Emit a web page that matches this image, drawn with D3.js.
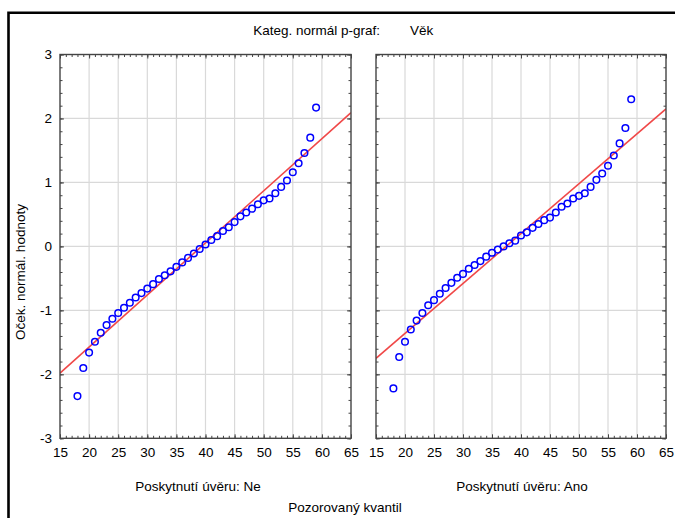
<!DOCTYPE html>
<html>
<head>
<meta charset="utf-8">
<script src="https://cdn.jsdelivr.net/npm/d3@7/dist/d3.min.js"></script>
<style>
  body { margin: 0; background: #fff; }
  text { font-family: "Liberation Sans", Arial, sans-serif; font-size: 13.5px; fill: #000; }
</style>
</head>
<body>
<svg id="chart" width="675" height="518"></svg>
<script>
// observed ages (x) and expected normal values (y) per group
var agesNe = [18,19,20,21,22,23,24,25,26,27,28,29,30,31,32,33,34,35,36,37,38,39,40,
              41,42,43,44,45,46,47,48,49,50,51,52,53,54,55,56,57,58,59];
var zNe = [-2.34,-1.90,-1.66,-1.49,-1.35,-1.23,-1.13,-1.04,-0.96,-0.88,-0.80,-0.73,
           -0.66,-0.59,-0.51,-0.45,-0.39,-0.32,-0.25,-0.18,-0.11,-0.04,0.03,
           0.10,0.16,0.24,0.30,0.38,0.47,0.53,0.59,0.66,0.72,0.75,0.83,0.93,1.03,
           1.16,1.30,1.46,1.70,2.17];
var agesAno = [18,19,20,21,22,23,24,25,26,27,28,29,30,31,32,33,34,35,36,37,38,39,
               40,41,42,43,44,45,46,47,48,49,50,51,52,53,54,55,56,57,58,59];
var zAno = [-2.22,-1.73,-1.49,-1.30,-1.16,-1.04,-0.92,-0.84,-0.74,-0.65,-0.57,-0.49,
            -0.43,-0.35,-0.29,-0.23,-0.16,-0.10,-0.05,0.00,0.05,0.09,
            0.17,0.22,0.29,0.35,0.41,0.45,0.53,0.62,0.67,0.75,0.79,0.83,0.93,1.04,
            1.14,1.26,1.42,1.61,1.85,2.30];
// fitted normal line end points [age, z]
var fitNe = [[15,-1.98],[65,2.09]];
var fitAno = [[15,-1.75],[65,2.15]];

var xMajor = [15,20,25,30,35,40,45,50,55,60,65];
var xMinor = [15,16,17,18,19,20,21,22,23,24,25,26,27,28,29,30,31,32,33,34,35,36,37,38,39,40,
              41,42,43,44,45,46,47,48,49,50,51,52,53,54,55,56,57,58,59,60,61,62,63,64,65];
var yMajor = [-3,-2,-1,0,1,2,3];
var yMinor = [-3,-2.8,-2.6,-2.4,-2.2,-2,-1.8,-1.6,-1.4,-1.2,-1,-0.8,-0.6,-0.4,-0.2,0,
              0.2,0.4,0.6,0.8,1,1.2,1.4,1.6,1.8,2,2.2,2.4,2.6,2.8,3];

var title = 'Kateg. normál p-graf:';
var titleVar = 'Věk';
var yTitle = 'Oček. normál. hodnoty';
var xTitle = 'Pozorovaný kvantil';

var panels = [
  { ages: agesNe, z: zNe, fit: fitNe, label: 'Poskytnutí úvěru: Ne', x0: 60, x1: 351, labelX: 198, yLabels: true },
  { ages: agesAno, z: zAno, fit: fitAno, label: 'Poskytnutí úvěru: Ano', x0: 376, x1: 666, labelX: 522, yLabels: false }
];

var svg = d3.select('#chart');
var plotTop = 54.5, plotBottom = 438.3;
var y = d3.scaleLinear().domain([-3, 3]).range([plotBottom, plotTop]);
var plain = function (d) { return String(d); };

// outer frame (only top and left edges are in view)
svg.append('path')
  .attr('d', 'M8.5,520 V12.8 H680')
  .attr('fill', 'none')
  .attr('stroke', '#000')
  .attr('stroke-width', 2.6);

panels.forEach(function (p) {
  var x = d3.scaleLinear().domain([15, 65]).range([p.x0, p.x1]);
  var g = svg.append('g');
  var w = p.x1 - p.x0, h = plotBottom - plotTop;

  // grid
  g.append('g').selectAll('line')
    .data(xMajor.slice(1, -1)).enter().append('line')
    .attr('x1', function (d) { return x(d); }).attr('x2', function (d) { return x(d); })
    .attr('y1', plotTop).attr('y2', plotBottom)
    .attr('stroke', '#d9d9d9').attr('stroke-width', 1.2);
  g.append('g').selectAll('line')
    .data(yMajor.slice(1, -1)).enter().append('line')
    .attr('y1', function (d) { return y(d); }).attr('y2', function (d) { return y(d); })
    .attr('x1', p.x0).attr('x2', p.x1)
    .attr('stroke', '#d9d9d9').attr('stroke-width', 1.2);

  // inward ticks on all sides
  function ticks(axis, vals, size, tx, ty) {
    var a = g.append('g').attr('transform', 'translate(' + tx + ',' + ty + ')')
      .call(axis.tickValues(vals).tickSize(size).tickFormat(''));
    a.select('.domain').remove();
    a.selectAll('line').attr('stroke', '#444').attr('stroke-width', 1);
  }
  ticks(d3.axisBottom(x), xMinor, -2.5, 0, plotBottom);
  ticks(d3.axisBottom(x), xMajor, -4, 0, plotBottom);
  ticks(d3.axisTop(x), xMinor, -2.5, 0, plotTop);
  ticks(d3.axisTop(x), xMajor, -4, 0, plotTop);
  ticks(d3.axisLeft(y), yMinor, -2.5, p.x0, 0);
  ticks(d3.axisLeft(y), yMajor, -4, p.x0, 0);
  ticks(d3.axisRight(y), yMinor, -2.5, p.x1, 0);
  ticks(d3.axisRight(y), yMajor, -4, p.x1, 0);

  // fitted line
  var clip = 'clip' + p.x0;
  svg.append('clipPath').attr('id', clip).append('rect')
    .attr('x', p.x0).attr('y', plotTop).attr('width', w).attr('height', h);
  g.append('path')
    .datum(p.fit)
    .attr('clip-path', 'url(#' + clip + ')')
    .attr('d', d3.line().x(function (d) { return x(d[0]); }).y(function (d) { return y(d[1]); }))
    .attr('fill', 'none')
    .attr('stroke', '#f04848')
    .attr('stroke-width', 1.6);

  // points
  g.append('g').selectAll('circle')
    .data(p.ages).enter().append('circle')
    .attr('cx', function (d) { return x(d); })
    .attr('cy', function (d, i) { return y(p.z[i]); })
    .attr('r', 3.3)
    .attr('fill', 'none')
    .attr('stroke', '#0000ff')
    .attr('stroke-width', 1.5);

  // frame
  g.append('rect')
    .attr('x', p.x0).attr('y', plotTop).attr('width', w).attr('height', h)
    .attr('fill', 'none').attr('stroke', '#444').attr('stroke-width', 1.4);

  // tick labels
  var xl = g.append('g').attr('transform', 'translate(0,' + plotBottom + ')')
    .call(d3.axisBottom(x).tickValues(xMajor).tickFormat(plain).tickSize(0).tickPadding(9));
  xl.select('.domain').remove();

  if (p.yLabels) {
    var yl = g.append('g').attr('transform', 'translate(' + p.x0 + ',0)')
      .call(d3.axisLeft(y).tickValues(yMajor).tickFormat(plain).tickSize(0).tickPadding(8));
    yl.select('.domain').remove();
  }

  g.append('text')
    .attr('x', p.labelX).attr('y', 491)
    .attr('text-anchor', 'middle')
    .text(p.label);
});

svg.append('text').attr('x', 380).attr('y', 35).attr('text-anchor', 'end').text(title);
svg.append('text').attr('x', 410).attr('y', 35).text(titleVar);
svg.append('text').attr('x', 345).attr('y', 512).attr('text-anchor', 'middle').text(xTitle);
svg.append('text')
  .attr('transform', 'translate(25,272) rotate(-90)')
  .attr('text-anchor', 'middle')
  .text(yTitle);
</script>
</body>
</html>
